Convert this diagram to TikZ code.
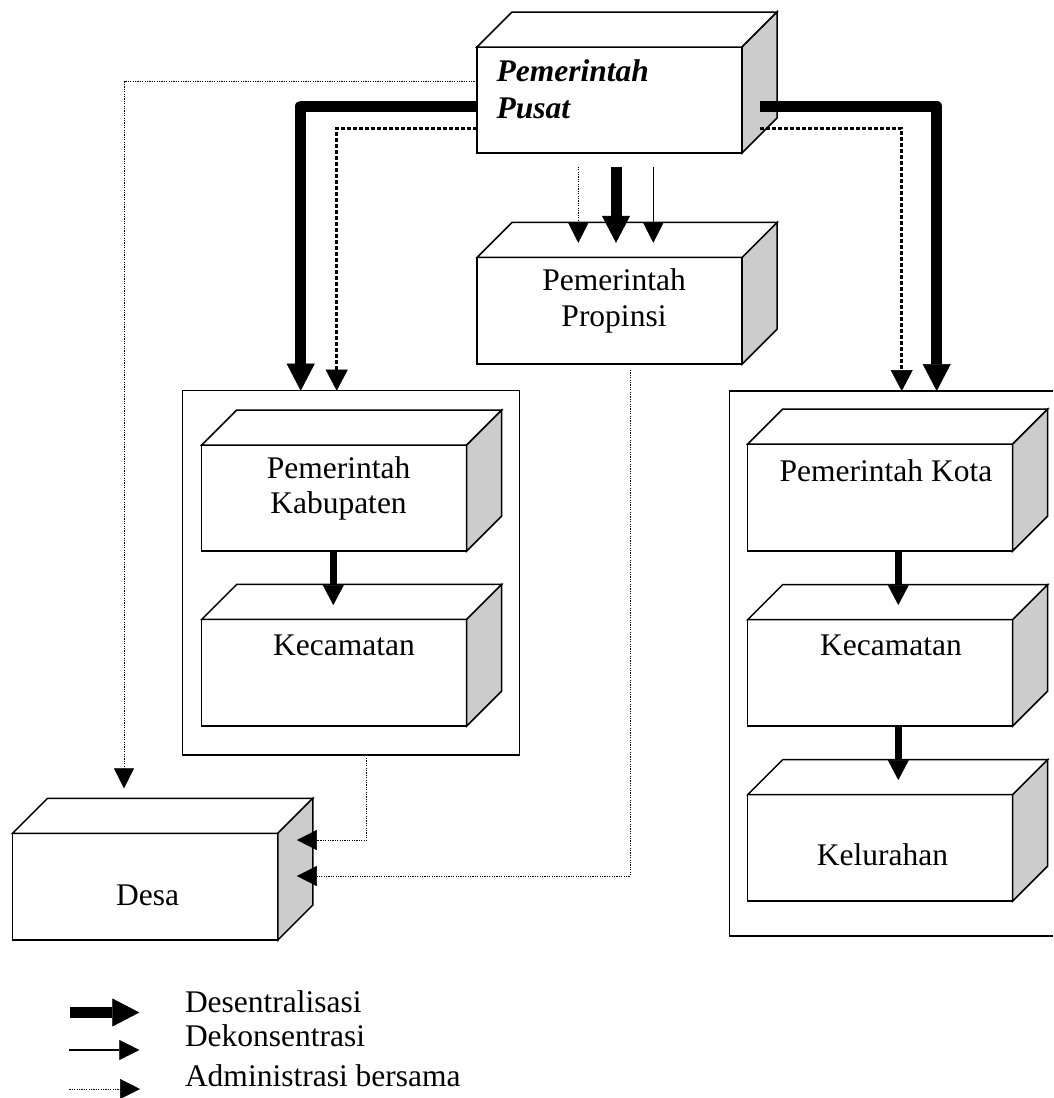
\documentclass[tikz,border=0pt]{standalone}
\usepackage{fontspec}
\setmainfont{Liberation Serif}
\usetikzlibrary{arrows.meta,calc}
\definecolor{sidegray}{RGB}{204,204,204}
\tikzset{
  boxline/.style={draw=black, line width=1.5pt, line join=miter},
  frontbox/.style={boxline, fill=white, rectangle, inner sep=0pt, outer sep=0pt},
  grpbox/.style={rectangle, inner sep=0pt, outer sep=0pt},
  grpline/.style={draw=black, line width=1.5pt},
  lbl/.style={font=\fontsize{31.5pt}{35.5pt}\selectfont, inner sep=0pt, outer sep=0pt, align=center},
  desent/.style={line width=11pt, line join=round, -{Triangle[width=28pt,length=27pt,line width=0.5pt]}},
  desmid/.style={line width=7pt, -{Triangle[width=21pt,length=20pt,line width=0.5pt]}},
  dekon/.style={line width=1.3pt, -{Triangle[width=20pt,length=20pt,line width=0.5pt]}},
  admthick/.style={line width=3pt, dash pattern=on 4pt off 2pt, -{Triangle[width=22pt,length=21pt,line width=0.5pt]}},
  admthin/.style={line width=1pt, dash pattern=on 1.2pt off 1.2pt, -{Triangle[width=20pt,length=20pt,line width=0.5pt]}},
}
\newcommand\cubebox[5]{%
  \node[frontbox, minimum width=#4pt, minimum height=#5pt] (#1) at (#2,#3) {};
  \draw[boxline, fill=white] (#1.north west) -- ++(35,-35) -- ([shift={(35,-35)}]#1.north east) -- (#1.north east) -- cycle;
  \draw[boxline, fill=sidegray] (#1.north east) -- ++(35,-35) -- ([shift={(35,-35)}]#1.south east) -- (#1.south east) -- cycle;
}
\begin{document}
\begin{tikzpicture}[x=1pt,y=-1pt]
\fill[white] (0,0) rectangle (1053,1098);
\useasboundingbox (0,0) rectangle (1053,1098);

% groups
\node[grpbox, draw, line width=1.5pt, minimum width=336.6pt, minimum height=364.3pt] (kabgrp) at (351,572.85) {};
\node[grpbox, minimum width=323.7pt, minimum height=545pt] (kotagrp) at (891.15,663.5) {};
\draw[grpline] (kotagrp.north east) -- (kotagrp.north west) -- (kotagrp.south west) -- (kotagrp.south east);

% boxes
\cubebox{pusat}{609.5}{100}{265}{106}
\cubebox{prop}{609.7}{310.7}{265}{106.7}
\cubebox{kab}{334.2}{498}{265}{106}
\cubebox{keckab}{334.2}{672.7}{265}{106.7}
\cubebox{kota}{880.2}{497.5}{265}{107}
\cubebox{keckota}{880.2}{672.85}{265}{106.3}
\cubebox{kel}{880.2}{847.85}{265}{106.3}
\cubebox{desa}{145.2}{886.65}{265.2}{106.7}

% labels
\node[lbl, align=left, anchor=west, font=\fontsize{31.5pt}{36.6pt}\selectfont\bfseries\itshape] (tpusat) at (496.7,89.2) {Pemerintah\\Pusat};
\node[lbl] (tprop) at (614,301.1) {Pemerintah\\Propinsi};
\node[lbl] (tkab) at (338.5,488.4) {Pemerintah\\Kabupaten};
\node[lbl, anchor=base] (tkeckab) at (344,655) {Kecamatan};
\node[lbl, anchor=base] (tkota) at (886,481) {Pemerintah Kota};
\node[lbl, anchor=base] (tkeckota) at (891,655) {Kecamatan};
\node[lbl, anchor=base] (tkel) at (882.5,865.7) {Kelurahan};
\node[lbl, anchor=base] (tdesa) at (147.7,905.7) {Desa};

% connectors from Pusat
\draw[admthin] ($(pusat.north west)+(0,34.7)$) -| ($(desa.north west)+(111.4,-45)$);
\draw[desent] ($(pusat.north west)+(0,59)$) -| ($(kabgrp.north west)+(118,0)$);
\draw[admthick] ($(pusat.north west)+(0,81.3)$) -| ($(kabgrp.north west)+(154,0)$);
\draw[desent] ($(pusat.north east)+(18,59)$) -| ($(kotagrp.north west)+(207.4,0)$);
\draw[admthick] ($(pusat.north east)+(18,81.3)$) -| ($(kotagrp.north west)+(172.4,0)$);

% Pusat -> Propinsi
\draw[admthin] ($(pusat.south)+(-31.2,13.7)$) -- ($(prop.north)+(-31.4,-14.5)$);
\draw[desent] ($(pusat.south)+(6.5,13.7)$) -- ($(prop.north)+(6.3,-14.5)$);
\draw[dekon] ($(pusat.south)+(43.8,13.7)$) -- ($(prop.north)+(43.6,-14.5)$);

% inside groups
\draw[desmid] ($(kab.south)+(-0.9,0)$) -- ($(keckab.north)+(-0.9,-14.3)$);
\draw[desmid] ($(kota.south)+(18.1,0)$) -- ($(keckota.north)+(18.1,-14.7)$);
\draw[desmid] ($(keckota.south)+(18.1,0)$) -- ($(kel.north)+(18.1,-14.7)$);

% to Desa
\draw[admthin] ($(kabgrp.south west)+(184,3)$) |- ($(desa.north east)+(19,6.7)$);
\draw[admthin] ($(prop.south)+(20.3,6)$) |- ($(desa.north east)+(19,42.7)$);

% legend
\coordinate (lg1a) at (70,1012.5);
\coordinate (lg1b) at (139.3,1012.5);
\coordinate (lg2a) at (69.3,1050);
\coordinate (lg2b) at (139.3,1050);
\coordinate (lg3a) at (69.3,1089);
\coordinate (lg3b) at (140,1089);
\draw[desent] (lg1a) -- (lg1b);
\draw[dekon] (lg2a) -- (lg2b);
\draw[admthin] (lg3a) -- (lg3b);
\node[lbl, anchor=base west] (lgt1) at (185,1012) {Desentralisasi};
\node[lbl, anchor=base west] (lgt2) at (185,1046.7) {Dekonsentrasi};
\node[lbl, anchor=base west] (lgt3) at (185,1086) {Administrasi bersama};
\end{tikzpicture}
\end{document}
